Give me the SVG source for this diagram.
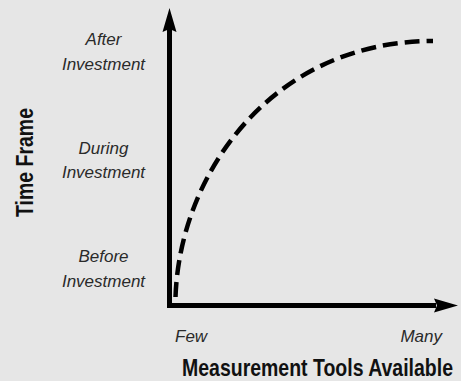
<svg xmlns="http://www.w3.org/2000/svg" width="461" height="381" viewBox="0 0 461 381">
<style>
.lbl{font-family:"Liberation Sans",Arial,sans-serif;font-style:italic;font-size:17px;fill:#2a2a2a;text-anchor:middle}
.ttl{font-family:"Liberation Sans",Arial,sans-serif;font-weight:bold;fill:#111}
.axis{stroke:#000;stroke-width:5;fill:none}
.head{fill:#000}
</style>
<rect width="461" height="381" fill="#e6e6e6"/>
<g id="connectors">
<path class="axis" d="M169.5,26 V308 M167,305.5 H436"/>
<polygon class="head" points="169.5,8 176.5,32 169.5,29 162.5,32"/>
<polygon class="head" points="458,305.5 434,312.5 437,305.5 434,298.5"/>
<path id="curve" d="M175.5,297 C180,170 275,41 433,41" fill="none" stroke="#000" stroke-width="4.5" stroke-dasharray="15 7"/>
</g>
<g id="y-labels">
<text class="lbl" x="103.5" y="45">After</text>
<text class="lbl" x="103.5" y="70">Investment</text>
<text class="lbl" x="103.5" y="154">During</text>
<text class="lbl" x="103.5" y="178">Investment</text>
<text class="lbl" x="103.5" y="262">Before</text>
<text class="lbl" x="103.5" y="287">Investment</text>
</g>
<g id="x-labels">
<text class="lbl" x="175" y="341.5" style="text-anchor:start">Few</text>
<text class="lbl" x="442" y="341.5" style="text-anchor:end">Many</text>
</g>
<g id="y-title">
<text class="ttl" font-size="19.5" transform="translate(33,162.5) rotate(-90) scale(1,1.2)" text-anchor="middle">Time Frame</text>
</g>
<g id="x-title">
<text class="ttl" font-size="19.5" transform="translate(182,376) scale(1,1.2)">Measurement Tools Available</text>
</g>
</svg>
